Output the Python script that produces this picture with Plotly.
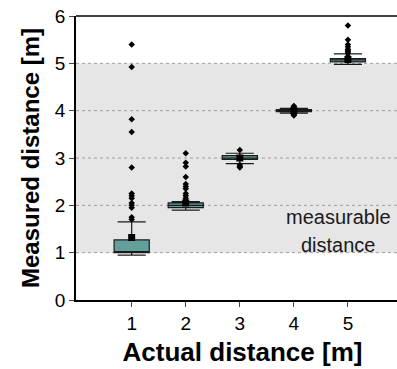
import plotly.graph_objects as go

categories = [1, 2, 3, 4, 5]
q1 = [1.00, 1.95, 2.97, 3.98, 5.03]
median = [1.02, 2.00, 3.00, 4.00, 5.07]
q3 = [1.27, 2.05, 3.05, 4.02, 5.10]
lower_whisker = [0.95, 1.90, 2.88, 3.95, 4.98]
upper_whisker = [1.65, 2.08, 3.10, 4.05, 5.20]
means = [1.32, 2.05, 3.00, 4.00, 5.08]
outliers = [
    [5.40, 4.92, 3.82, 3.55, 2.80, 2.25, 2.20, 2.15, 2.05, 2.00, 1.95, 1.75, 1.70],
    [3.10, 2.90, 2.82, 2.60, 2.45, 2.40, 2.35, 2.25, 2.20, 2.15, 2.10, 2.05],
    [3.17, 2.85, 2.82, 2.80],
    [4.10, 4.08, 3.92, 3.90],
    [5.80, 5.50, 5.40, 5.35, 5.30, 5.28, 5.25, 5.22, 5.15, 5.12],
]
region_low, region_high = 1, 5
grid_values = [1, 2, 3, 4, 5]

fig = go.Figure()

fig.add_trace(go.Box(
    x=categories, q1=q1, median=median, q3=q3,
    lowerfence=lower_whisker, upperfence=upper_whisker,
    boxpoints=False, width=0.65, whiskerwidth=0.8,
    fillcolor="#63a09c", line=dict(color="#1a1a1a", width=1.2),
    showlegend=False, hoverinfo="skip",
))

ox, oy = [], []
for c, vals in zip(categories, outliers):
    for v in vals:
        ox.append(c)
        oy.append(v)
fig.add_trace(go.Scatter(
    x=ox, y=oy, mode="markers",
    marker=dict(symbol="diamond", size=5, color="black"),
    showlegend=False,
))
fig.add_trace(go.Scatter(
    x=categories, y=means, mode="markers",
    marker=dict(symbol="square", size=7, color="black"),
    showlegend=False,
))

fig.add_shape(type="rect", xref="paper", x0=0, x1=1, yref="y",
              y0=region_low, y1=region_high, fillcolor="#e6e6e6",
              line=dict(width=0), layer="below")
for g in grid_values:
    fig.add_shape(type="line", xref="paper", x0=0, x1=1, yref="y",
                  y0=g, y1=g, line=dict(color="#a0a0a0", width=1, dash="dot"),
                  layer="below")

fig.add_annotation(x=4.83, y=1.76, text="measurable", showarrow=False,
                   font=dict(size=20, color="#1a1a1a"), xanchor="center", yanchor="middle")
fig.add_annotation(x=4.83, y=1.16, text="distance", showarrow=False,
                   font=dict(size=20, color="#1a1a1a"), xanchor="center", yanchor="middle")

fig.update_layout(
    width=409, height=369,
    margin=dict(l=76, r=0, t=16, b=69, autoexpand=False),
    plot_bgcolor="white", paper_bgcolor="white",
    font=dict(family="Liberation Sans, Arial, sans-serif", color="black"),
    xaxis=dict(
        range=[-0.03, 6.13], tickvals=categories, ticks="outside", ticklen=5,
        showgrid=False, zeroline=False, showline=True, linecolor="black",
        linewidth=1.5, mirror=False, tickfont=dict(size=19), automargin=False,
        title=dict(text="<b>Actual distance [m]</b>", font=dict(size=26), standoff=10),
    ),
    yaxis=dict(
        range=[0, 6], dtick=1, ticks="outside", ticklen=5,
        showgrid=False, zeroline=False, showline=True, linecolor="black",
        linewidth=1.5, mirror=False, tickfont=dict(size=19), automargin=False,
        title=dict(text="<b>Measured distance [m]</b>", font=dict(size=24), standoff=8),
    ),
)
fig.add_shape(type="line", xref="paper", x0=0, x1=1, yref="paper", y0=1, y1=1,
              line=dict(color="black", width=1.5))

fig.write_html(
    "out.html",
    config={"displayModeBar": False},
    post_script=(
        "document.documentElement.style.overflow='hidden';"
        "document.body.style.margin='0';document.body.style.overflow='hidden';"
    ),
)
